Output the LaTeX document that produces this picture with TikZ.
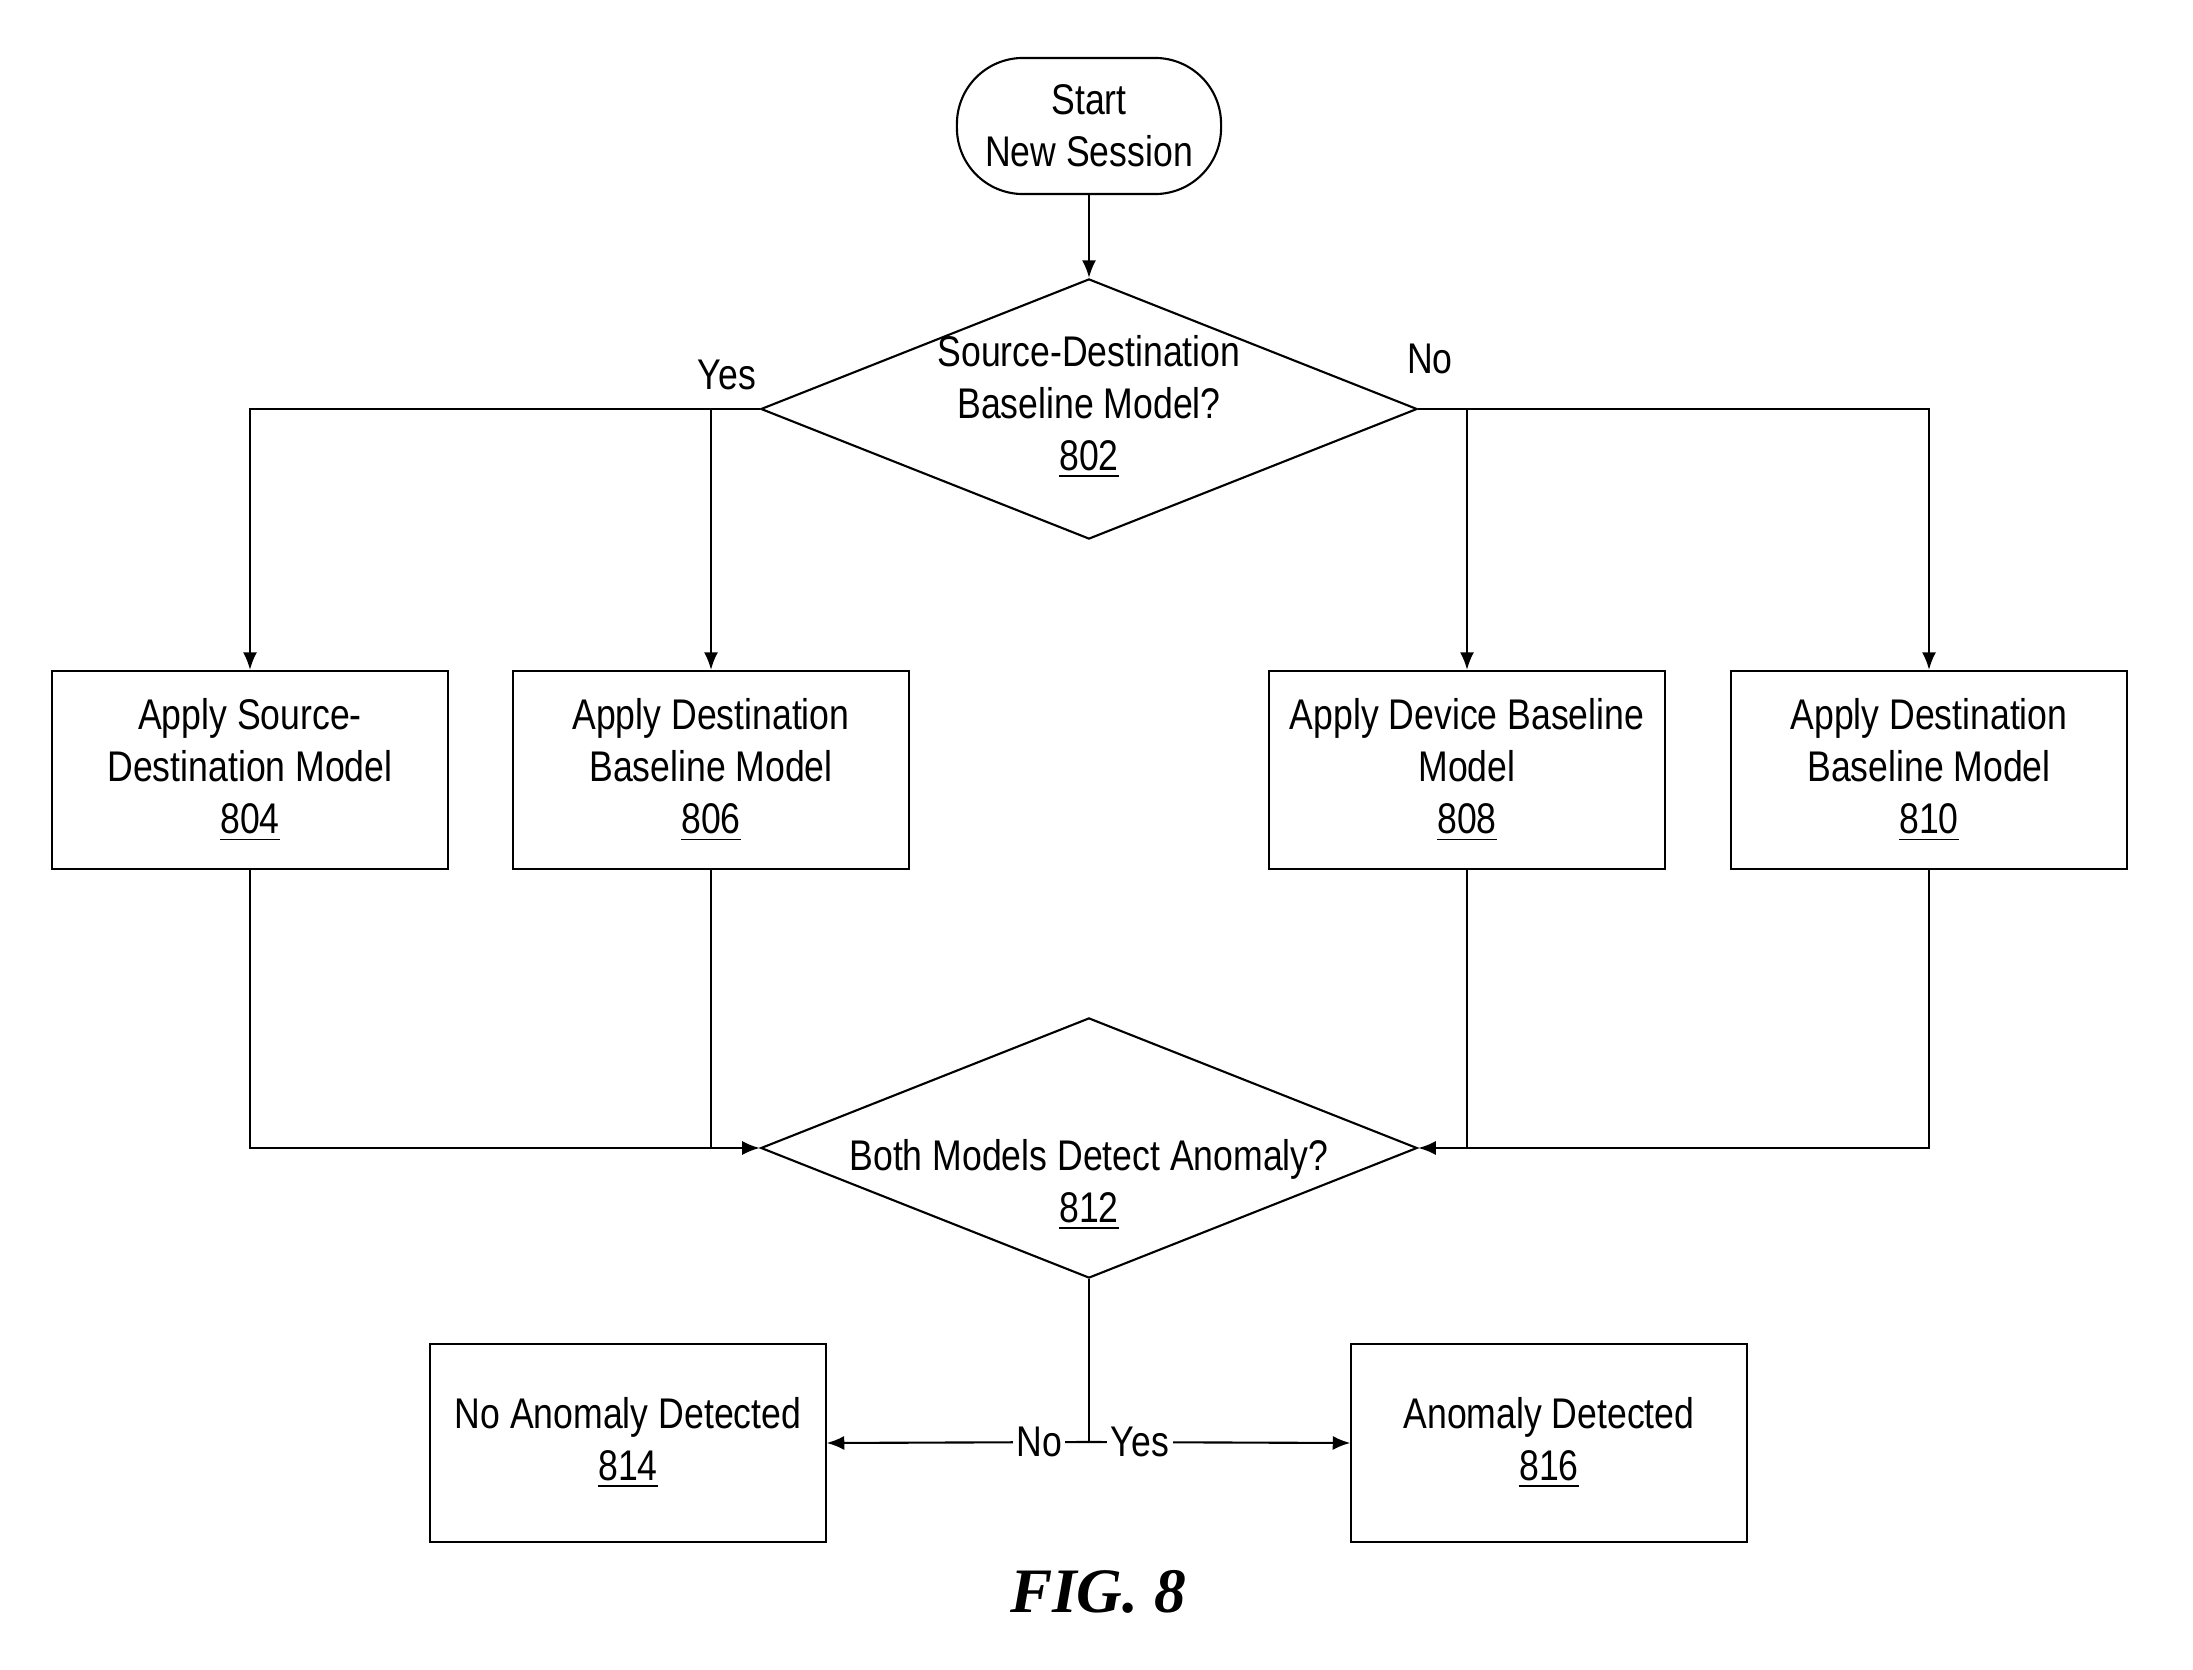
\documentclass[tikz,border=0pt]{standalone}
\usepackage{fontspec}
\setmainfont{Liberation Sans}[FakeStretch=0.83]
\newfontfamily\figfont{Liberation Serif}
\usetikzlibrary{shapes.geometric,arrows.meta}
\begin{document}
\begin{tikzpicture}[x=0.01cm,y=-0.01cm,
  every node/.style={font=\fontsize{12.2}{14.8}\selectfont},
  line/.style={line width=0.6pt},
  arr/.style={line, -{Latex[length=5pt,width=4pt]}},
  box/.style={draw, line width=0.6pt, minimum width=3.95cm, minimum height=1.98cm, align=center, inner sep=0pt},
  dec/.style={diamond, draw, line width=0.6pt, minimum width=6.56cm, minimum height=2.60cm, aspect=2.52, inner sep=0pt},
  term/.style={draw, line width=0.6pt, rounded corners=0.66cm, minimum width=2.64cm, minimum height=1.36cm, align=center, inner sep=0pt},
  txt/.style={align=center, inner sep=0pt},
  lab/.style={inner sep=1pt}
]
\useasboundingbox (0,0) rectangle (2193,1670);

\node[term] (start) at (1089,126) {Start\\New Session};

\node[dec] (d802) at (1089,409) {};
\node[txt] (t802) at (1089,407) {Source-Destination\\Baseline Model?\\\underline{802}};

\node[box] (b804) at (250,770) {Apply Source-\\Destination Model\\\underline{804}};
\node[box] (b806) at (711,770) {Apply Destination\\Baseline Model\\\underline{806}};
\node[box] (b808) at (1467,770) {Apply Device Baseline\\Model\\\underline{808}};
\node[box] (b810) at (1929,770) {Apply Destination\\Baseline Model\\\underline{810}};

\node[dec] (d812) at (1089,1148) {};
\node[txt] (t812) at (1089,1185) {Both Models Detect Anomaly?\\\underline{812}};

\node[box] (b814) at (628,1443) {No Anomaly Detected\\\underline{814}};
\node[box] (b816) at (1549,1443) {Anomaly Detected\\\underline{816}};

\node[lab] (yes1) at (727,375) {Yes};
\node[lab] (no1) at (1430,359) {No};

\node[font=\figfont\bfseries\itshape\fontsize{18}{20}\selectfont] (fig) at (1098,1592) {FIG. 8};

% connectors
\draw[arr] (start) -- (d802.north);
\draw[arr] (d802.west) -| (b804.north);
\draw[arr] (d802.west -| b806.north) -- (b806.north);
\draw[arr] (d802.east) -| (b810.north);
\draw[arr] (d802.east -| b808.north) -- (b808.north);

\draw[arr] (b804.south) |- (d812.west);
\draw[line] (b806.south) -- (b806.south |- d812.west);
\draw[arr] (b810.south) |- (d812.east);
\draw[line] (b808.south) -- (b808.south |- d812.east);

\coordinate (j) at (1089,1442);
\draw[line] (d812.south) -- (j);
\draw[arr] (j) -- node[pos=0.19, fill=white, inner sep=1pt] {No} (b814.east);
\draw[arr] (j) -- node[pos=0.195, fill=white, inner sep=1pt] {Yes} (b816.west);
\end{tikzpicture}
\end{document}
